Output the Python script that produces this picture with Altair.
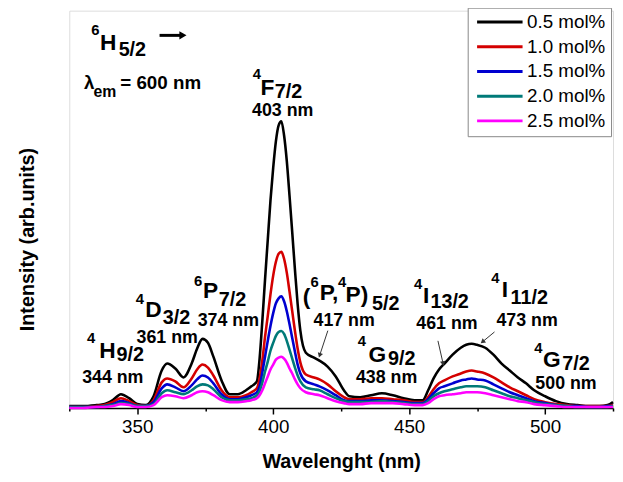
import altair as alt
import pandas as pd

# ---------------- data ----------------
WAVELENGTH = [325, 330, 335, 338, 341, 344, 347, 350, 353, 356,
              359, 361, 364, 367, 370, 372, 374, 376, 378, 381,
              384, 387, 390, 392, 394, 395, 396, 397, 398, 399,
              400, 401, 402, 403, 404, 405, 406, 407, 408, 409,
              410, 412, 415, 417, 420, 423, 426, 428, 432, 436,
              440, 444, 448, 452, 455, 457, 459, 461, 463, 466,
              469, 471, 473, 475, 478, 481, 484, 487, 490, 493,
              496, 500, 504, 508, 512, 516, 520, 523, 525]

SERIES = ["0.5 mol%", "1.0 mol%", "1.5 mol%", "2.0 mol%", "2.5 mol%"]
COLORS = ["#000000", "#d40000", "#0000d0", "#007a78", "#ff00ff"]

I_05 = [2, 2, 3, 4, 8, 14, 10, 4, 3, 12,
        38, 45, 40, 31, 45, 60, 70, 66, 52, 28,
        14, 14, 18, 22, 27, 50, 88, 130, 170, 210,
        243, 270, 286, 290, 276, 250, 215, 178, 140, 105,
        78, 56, 51, 48, 42, 32, 18, 12, 11, 13,
        15, 13, 10, 8, 8, 18, 30, 39, 45, 54,
        61, 64, 65, 64, 61, 54, 45, 38, 31, 25,
        18, 12, 7, 4, 3, 2, 2, 3, 6]
I_10 = [1, 1, 2, 3, 6, 10, 7, 3, 2, 8,
        26, 30, 27, 21, 30, 39, 44, 41, 33, 18,
        11, 11, 13, 16, 20, 30, 48, 72, 93, 115,
        134, 148, 156, 158, 151, 137, 118, 98, 78, 60,
        46, 34, 31, 29, 24, 17, 11, 9, 9, 10,
        10, 9, 8, 6, 6, 11, 19, 25, 28, 32,
        35, 37, 38, 37, 35, 31, 26, 21, 17, 13,
        9, 6, 4, 3, 2, 2, 2, 2, 3]
I_15 = [1, 1, 1, 2, 4, 7, 5, 2, 2, 6,
        20, 24, 21, 17, 23, 29, 33, 31, 25, 14,
        9, 9, 11, 13, 16, 22, 36, 52, 68, 83,
        96, 106, 111, 113, 108, 98, 85, 71, 57, 44,
        35, 27, 24, 22, 18, 13, 8, 7, 7, 8,
        8, 7, 6, 5, 5, 9, 15, 20, 22, 25,
        28, 29, 30, 29, 28, 24, 20, 16, 13, 10,
        7, 5, 3, 2, 2, 1, 1, 2, 2]
I_20 = [1, 1, 1, 2, 3, 5, 4, 2, 2, 4,
        15, 18, 16, 14, 18, 22, 24, 23, 19, 11,
        8, 8, 9, 10, 13, 17, 26, 37, 47, 58,
        66, 73, 77, 78, 75, 68, 59, 50, 41, 33,
        27, 21, 19, 18, 14, 10, 7, 6, 6, 6,
        7, 6, 5, 4, 4, 7, 12, 15, 17, 19,
        21, 22, 22, 22, 21, 18, 15, 12, 10, 8,
        6, 4, 3, 2, 1, 1, 1, 1, 2]
I_25 = [0, 0, 1, 1, 2, 4, 3, 1, 1, 3,
        11, 13, 12, 10, 13, 16, 17, 16, 13, 8,
        6, 6, 7, 8, 10, 13, 18, 25, 32, 39,
        44, 49, 51, 52, 50, 46, 40, 35, 29, 24,
        20, 16, 14, 13, 10, 7, 5, 4, 4, 5,
        5, 5, 4, 3, 3, 5, 9, 12, 13, 14,
        15, 16, 16, 16, 15, 13, 11, 9, 7, 6,
        4, 3, 2, 1, 1, 1, 1, 1, 1]

# annotation pieces: text, wavelength, intensity, font size
ANN_TEXT = ["6", "H", "5/2", "\u03bb", "em", "= 600 nm",
            "4", "F", "7/2", "403 nm",
            "4", "H", "9/2", "344 nm",
            "4", "D", "3/2", "361 nm",
            "6", "P", "7/2", "374 nm",
            "(", "6", "P,", "4", "P)", "5/2", "417 nm",
            "4", "G", "9/2", "438 nm",
            "4", "I", "13/2", "461 nm",
            "4", "I", "11/2", "473 nm",
            "4", "G", "7/2", "500 nm"]
ANN_X = [334.6, 339.3, 348.2, 332.3, 338.1, 358.6,
         394.0, 397.9, 405.6, 403.5,
         333.0, 339.0, 347.4, 341.0,
         351.0, 356.0, 364.4, 361.0,
         372.4, 377.0, 385.0, 383.5,
         412.3, 415.2, 420.5, 425.4, 430.8, 441.4, 426.1,
         432.6, 438.3, 447.3, 441.7,
         453.3, 456.3, 464.9, 463.9,
         481.7, 485.2, 494.2, 493.4,
         497.5, 502.5, 511.4, 507.7]
ANN_Y = [382, 369, 362.5, 329, 320, 328.5,
         337.5, 324, 320, 300,
         71, 58, 53.5, 30,
         110, 99, 91, 71,
         128, 118.5, 109.5, 88,
         112.5, 127, 116, 127, 114, 105, 88,
         68, 54, 49.5, 30,
         125, 113.5, 107.5, 85,
         132, 119, 111.5, 88,
         61, 48.5, 45, 24.5]
ANN_SIZE = [15, 23, 20, 19, 16, 19,
            15, 23, 20, 18,
            15, 23, 20, 18,
            15, 23, 20, 18,
            15, 23, 20, 18,
            23, 15, 23, 15, 23, 20, 18,
            15, 23, 20, 18,
            15, 23, 20, 18,
            15, 23, 20, 18,
            15, 23, 20, 18]

# pointer arrows: start -> end (wavelength, intensity), head angle
ARR_X1 = [420.1, 460.6, 481.4]
ARR_Y1 = [78.3, 68, 77]
ARR_X2 = [417.1, 462.5, 477.0]
ARR_Y2 = [53.3, 45, 67]
ARR_ANGLE = [18.6, 347.7, 50.2]

# transition arrow after 6H5/2
TR_X1 = [358.2]
TR_X2 = [366.8]
TR_Y = [377]

# ---------------- tables ----------------
rows = []
for name, vals in zip(SERIES, [I_05, I_10, I_15, I_20, I_25]):
    for w, v in zip(WAVELENGTH, vals):
        rows.append({"wl": w, "val": v, "series": name})
spec = pd.DataFrame(rows)
ann = pd.DataFrame({"x": ANN_X, "y": ANN_Y, "label": ANN_TEXT, "fs": ANN_SIZE})
arr = pd.DataFrame({"x": ARR_X1, "y": ARR_Y1, "x2": ARR_X2, "y2": ARR_Y2, "ang": ARR_ANGLE})
tr = pd.DataFrame({"x": TR_X1, "x2": TR_X2, "y": TR_Y})

FONT = "Liberation Sans"
xscale = alt.Scale(domain=[325, 525], nice=False, zero=False)
yscale = alt.Scale(domain=[0, 402], nice=False, zero=True)

xaxis = alt.Axis(
    values=[325, 350, 375, 400, 425, 450, 475, 500, 525],
    labelExpr="datum.value % 50 === 0 ? datum.label : ''",
    tickSize={"condition": {"test": "datum.value % 50 === 0", "value": 6}, "value": 3},
    tickColor="black", tickWidth=1.5, domainColor="black", domainWidth=1.5,
    labelFont=FONT, labelFontSize=19, labelColor="black", labelPadding=4,
    grid=False, title="Wavelenght (nm)", titleFont=FONT, titleFontSize=20,
    titleFontWeight="bold", titleColor="black", titleY=44, titleBaseline="top",
)
yaxis = alt.Axis(
    labels=False, ticks=False, domain=False, grid=False,
    title="Intensity (arb.units)", titleFont=FONT, titleFontSize=20,
    titleFontWeight="bold", titleColor="black", titleX=-36, titleY=231,
    titleBaseline="alphabetic", titleAlign="center",
)

lines = alt.Chart(spec).mark_line(strokeWidth=2.6, interpolate="monotone").encode(
    x=alt.X("wl:Q", scale=xscale, axis=xaxis),
    y=alt.Y("val:Q", scale=yscale, axis=yaxis),
    color=alt.Color(
        "series:N",
        scale=alt.Scale(domain=SERIES, range=COLORS),
        legend=alt.Legend(
            title=None, orient="none", legendX=403, legendY=-3, direction="vertical",
            symbolType="M-4.6,0H4.6", symbolSize=100, symbolStrokeWidth=3,
            symbolOffset=18, labelOffset=18,
            labelFont=FONT, labelFontSize=19, labelColor="black",
            labelExpr="datum.label + '   '",
            padding=5, rowPadding=5, strokeColor="#888888", fillColor="white",
        ),
    ),
    order=alt.Order("wl:Q"),
)

texts = alt.Chart(ann).mark_text(
    font=FONT, fontWeight="bold", align="center", baseline="middle", color="black"
).encode(
    x=alt.X("x:Q", scale=xscale),
    y=alt.Y("y:Q", scale=yscale),
    text="label:N",
    size=alt.Size("fs:Q", scale=None),
)

arrow_lines = alt.Chart(arr).mark_rule(color="#333333", strokeWidth=1).encode(
    x=alt.X("x:Q", scale=xscale), y=alt.Y("y:Q", scale=yscale),
    x2="x2:Q", y2="y2:Q",
)
arrow_heads = alt.Chart(arr).mark_point(
    shape="triangle-down", filled=True, size=30, color="#333333", opacity=1
).encode(
    x=alt.X("x2:Q", scale=xscale), y=alt.Y("y2:Q", scale=yscale),
    angle=alt.Angle("ang:Q", scale=None),
)

tr_line = alt.Chart(tr).mark_rule(color="black", strokeWidth=3).encode(
    x=alt.X("x:Q", scale=xscale), x2="x2:Q", y=alt.Y("y:Q", scale=yscale),
)
tr_head = alt.Chart(tr).mark_point(
    shape="triangle-right", filled=True, size=70, color="black", opacity=1
).encode(
    x=alt.X("x2:Q", scale=xscale), y=alt.Y("y:Q", scale=yscale),
)

chart = alt.layer(lines, texts, arrow_lines, arrow_heads, tr_line, tr_head).properties(
    width=550, height=402,
    autosize=alt.AutoSizeParams(type="none"),
    padding={"left": 62, "top": 0, "right": 2, "bottom": 64},
).configure_view(stroke="black", strokeWidth=1.5).configure(background="white")

chart.save("out.html", embed_options={"renderer": "svg", "actions": False})
